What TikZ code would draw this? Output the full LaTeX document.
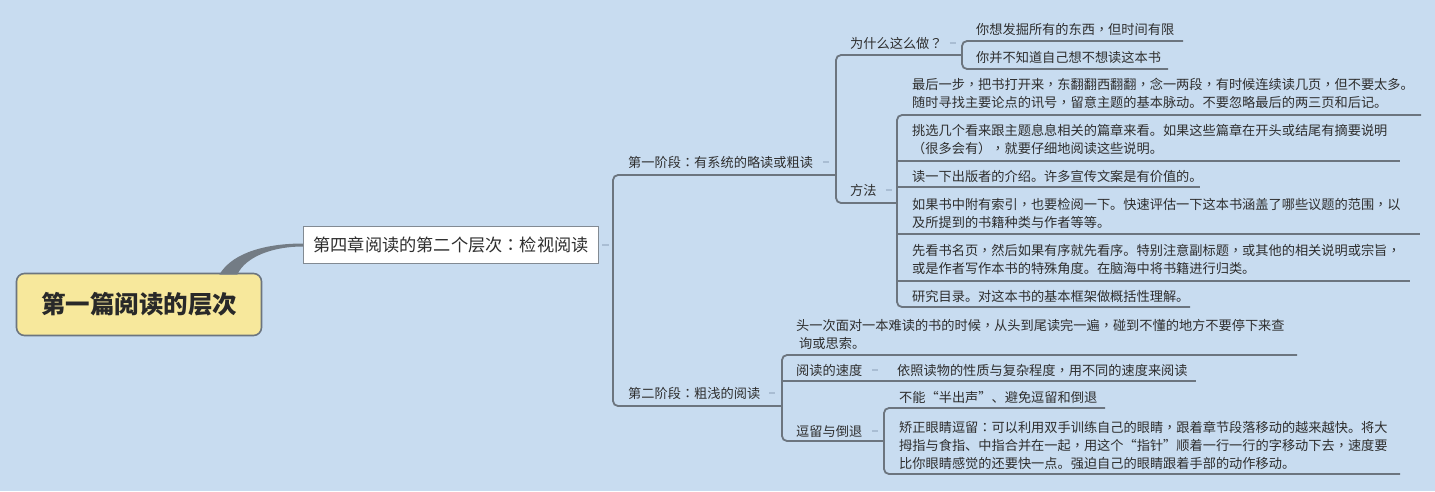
\documentclass[tikz,border=0pt]{standalone}
\usepackage{fontspec}
\newfontfamily\cjk{Noto Sans CJK SC}
\newfontfamily\cjktc{Noto Sans CJK TC}
\newcommand\zc{{\cjktc ，}}
\newcommand\zd{{\cjktc ：}}
\newcommand\zq{{\cjktc ？}}
\usetikzlibrary{calc}
\definecolor{bg}{HTML}{C8DCF0}
\definecolor{ln}{HTML}{6C757F}
\definecolor{tx}{HTML}{2E2E2E}
\definecolor{mk}{HTML}{A9BDD3}
\definecolor{rootfill}{HTML}{F7E89C}
\begin{document}
\begin{tikzpicture}[x=1pt,y=-1pt,
  topic/.style={font=\cjk\fontsize{13.2}{18}\selectfont, text=tx, inner sep=0pt, anchor=west, align=left},
  uline/.style={draw=ln, line width=1.8pt, rounded corners=5pt},
  mkr/.style={draw=mk, line width=1.2pt}]
\fill[bg] (0,0) rectangle (1435,491);
\useasboundingbox (0,0) rectangle (1435,491);

% root and chapter
\node[draw=ln, fill=rootfill, rounded corners=8pt, line width=1.6pt,
      minimum width=245pt, minimum height=62pt, text=tx!90!black,
      font=\cjk\bfseries\fontsize{24.5}{28}\selectfont] (root) at (139,304.5) {第一篇阅读的层次};
\node[draw=ln!85, fill=white, line width=1.5pt, minimum width=295pt, minimum height=37pt,
      text=tx, font=\cjk\fontsize{17.2}{20}\selectfont] (ch) at (451,245) {第四章阅读的第二个层次\zd{}检视阅读};
\fill[ln!95] ($(root.north east)+(-43,2)$) .. controls +(14,-24) and +(-32,0) .. ($(ch.west)+(0,-1.5)$)
   -- ($(ch.west)+(0,1.5)$) .. controls +(-30,0) and +(8,-18) .. ($(root.north east)+(-25,2)$) -- cycle;
\draw[mkr] ($(ch.east)+(3,0)$) -- ++(7,0);

% stage level
\node[topic] (s1) at (628,162) {第一阶段\zd{}有系统的略读或粗读};
\node[topic] (s2) at (628,393) {第二阶段\zd{}粗浅的阅读};
\draw[uline] (836,175) -- (613,175) -- (613,406) -- (782,406);
\draw[mkr] ($(s1.east)+(10,0)$) -- ++(6,0);
\draw[mkr] ($(s2.east)+(9,0)$) -- ++(6,0);

% stage 1 children
\node[topic] (why) at (850,43) {为什么这么做\zq};
\node[topic] (meth) at (850,190) {方法};
\draw[uline] (962,55) -- (836,55) -- (836,203) -- (897,203);
\draw[mkr] ($(why.east)+(7,0)$) -- ++(6,0);
\draw[mkr] ($(meth.east)+(9,0)$) -- ++(6,0);

% why children
\node[topic] (w1) at (976,29) {你想发掘所有的东西\zc{}但时间有限};
\node[topic] (w2) at (976,57) {你并不知道自己想不想读这本书};
\draw[uline] (1183,41) -- (962,41) -- (962,69) -- (1168,69);

% method children
\node[topic] (m1) at (912,93) {最后一步\zc{}把书打开来\zc{}东翻翻西翻翻\zc{}念一两段\zc{}有时候连续读几页\zc{}但不要太多。\\随时寻找主要论点的讯号\zc{}留意主题的基本脉动。不要忽略最后的两三页和后记。};
\node[topic] (m2) at (912,139) {挑选几个看来跟主题息息相关的篇章来看。如果这些篇章在开头或结尾有摘要说明\\{\cjktc （}很多会有{\cjktc ）}\zc{}就要仔细地阅读这些说明。};
\node[topic] (m3) at (912,176) {读一下出版者的介绍。许多宣传文案是有价值的。};
\node[topic] (m4) at (912,213) {如果书中附有索引\zc{}也要检阅一下。快速评估一下这本书涵盖了哪些议题的范围\zc{}以\\及所提到的书籍种类与作者等等。};
\node[topic] (m5) at (912,259) {先看书名页\zc{}然后如果有序就先看序。特别注意副标题\zc{}或其他的相关说明或宗旨\zc\\或是作者写作本书的特殊角度。在脑海中将书籍进行归类。};
\node[topic] (m6) at (912,296) {研究目录。对这本书的基本框架做概括性理解。};
\draw[uline] (1421,115) -- (897,115) -- (897,307) -- (1190,307);
\draw[uline] (897,161) -- (1400,161);
\draw[uline] (897,187) -- (1200,187);
\draw[uline] (897,234) -- (1420,234);
\draw[uline] (897,281) -- (1410,281);

% stage 2 children
\node[topic] (s2a) at (796,334) {头一次面对一本难读的书的时候\zc{}从头到尾读完一遍\zc{}碰到不懂的地方不要停下来查\\\hspace{3pt}询或思索。};
\node[topic] (spd) at (796,370) {阅读的速度};
\node[topic] (spd1) at (897,370) {依照读物的性质与复杂程度\zc{}用不同的速度来阅读};
\node[topic] (stay) at (796,431) {逗留与倒退};
\draw[uline] (1297,355) -- (782,355) -- (782,441) -- (884,441);
\draw[uline] (782,381) -- (1196,381);
\draw[mkr] ($(spd.east)+(10,0)$) -- ++(6,0);
\draw[mkr] ($(stay.east)+(10,0)$) -- ++(6,0);

% stay children
\node[topic] (st1) at (899,397) {不能“半出声”、避免逗留和倒退};
\node[topic] (st2) at (899,445) {矫正眼睛逗留\zd{}可以利用双手训练自己的眼睛\zc{}跟着章节段落移动的越来越快。将大\\拇指与食指、中指合并在一起\zc{}用这个“指针”顺着一行一行的字移动下去\zc{}速度要\\比你眼睛感觉的还要快一点。强迫自己的眼睛跟着手部的动作移动。};
\draw[uline] (1105,408) -- (884,408) -- (884,474) -- (1400,474);
\end{tikzpicture}
\end{document}
